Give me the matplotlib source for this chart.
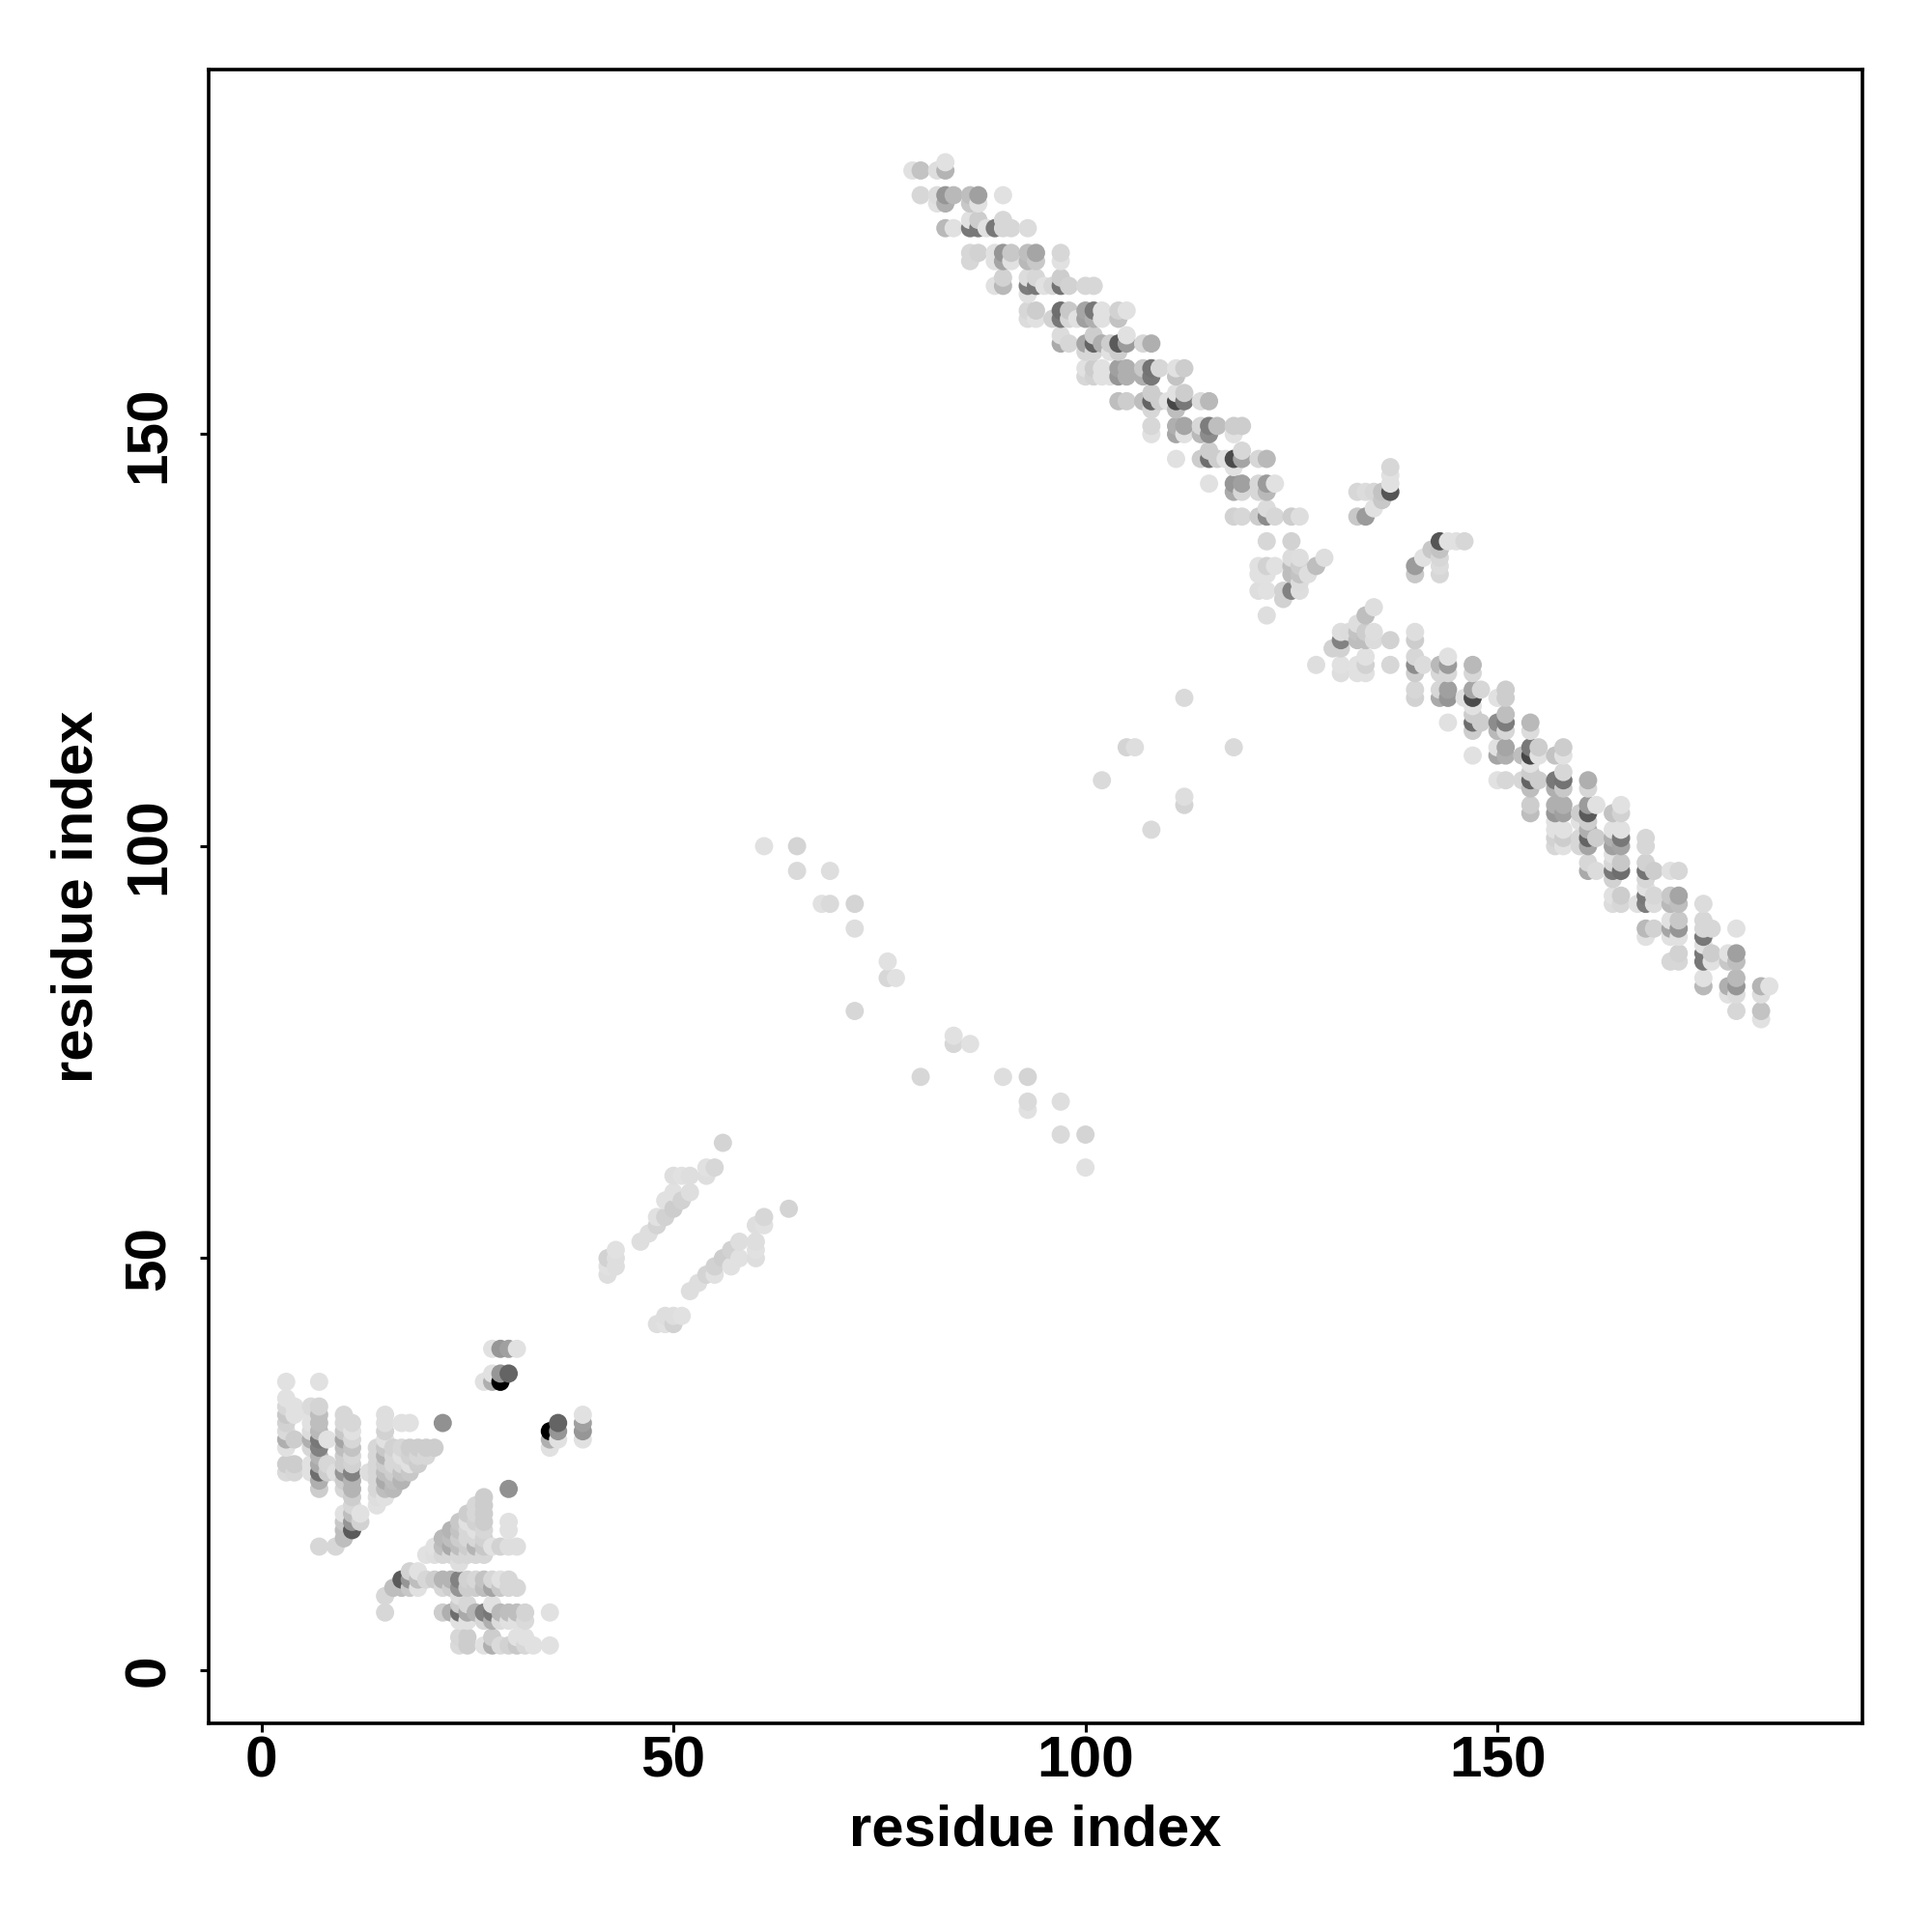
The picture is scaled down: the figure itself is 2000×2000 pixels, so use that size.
import numpy as np
import matplotlib
matplotlib.use("Agg")
import matplotlib.pyplot as plt

plt.rcParams["font.family"] = ["Liberation Sans", "DejaVu Sans"]

# contact map is symmetric, so only the x < y half is listed and mirrored below
# grey levels are 0-255

# first domain, bottom left corner
low_x = [3, 3, 3, 3, 3, 3, 3, 3, 3, 3,
         4, 4, 4, 4, 4,
         6, 6, 6, 6, 6, 6, 6, 6,
         7, 7, 7, 7, 7, 7, 7, 7, 7, 7, 7, 7, 7,
         8, 8, 8,
         9, 9,
         10, 10, 10, 10, 10, 10, 10, 10, 10, 10, 10, 10, 10, 10,
         11, 11, 11, 11, 11, 11, 11, 11, 11, 11, 11, 11, 11, 11,
         12, 12,
         13,
         14, 14, 14, 14, 14, 14, 14, 14,
         15, 15, 15, 15, 15, 15, 15, 15, 15, 15, 15,
         16, 16, 16, 16, 16, 16,
         17, 17, 17, 17, 17, 17,
         18, 18, 18, 18, 18,
         19, 19, 19,
         20, 20,
         21, 22, 27,
         28, 28, 28,
         29, 29, 29,
         30, 30,
         31]
low_y = [24, 25, 27, 28, 29, 30, 31, 32, 33, 35,
         24, 25, 28, 31, 32,
         24, 25, 27, 28, 29, 30, 31, 32,
         15, 22, 23, 24, 25, 26, 27, 28, 29, 30, 31, 32, 35,
         24, 25, 28,
         15, 24,
         16, 17, 18, 19, 22, 23, 24, 25, 26, 27, 28, 29, 30, 31,
         17, 18, 19, 20, 21, 22, 23, 24, 25, 26, 27, 28, 29, 30,
         18, 19,
         24,
         20, 21, 22, 23, 24, 25, 26, 27,
         21, 22, 23, 24, 25, 26, 27, 28, 29, 30, 31,
         22, 23, 24, 25, 26, 27,
         23, 24, 25, 26, 27, 30,
         24, 25, 26, 27, 30,
         25, 26, 27,
         26, 27,
         27, 30, 35,
         35, 36, 39,
         35, 36, 39,
         36, 39,
         39]
low_g = [218, 205, 225, 175, 218, 210, 200, 215, 225, 225,
         215, 205, 205, 225, 225,
         225, 225, 215, 175, 220, 225, 225, 218,
         215, 205, 175, 110, 170, 180, 130, 120, 185, 190, 190, 212, 225,
         205, 215, 225,
         215, 222,
         190, 190, 200, 225, 215, 205, 150, 205, 205, 190, 165, 200, 215, 215,
         90, 150, 190, 215, 205, 180, 180, 130, 210, 215, 195, 215, 225, 215,
         210, 225,
         222,
         225, 222, 215, 215, 215, 215, 215, 215,
         225, 190, 170, 190, 205, 180, 200, 225, 210, 222, 222,
         185, 190, 205, 215, 215, 210,
         180, 195, 215, 225, 215, 225,
         200, 225, 210, 205, 225,
         205, 215, 205,
         215, 205,
         205, 145, 225,
         175, 225, 225,
         0, 150, 150,
         100, 160,
         225]

# the faint stripes in the middle
mid_x = [42, 42, 42, 43, 43, 43, 46, 47, 48, 48, 49, 49, 50, 50, 50,
         51, 51, 52, 52, 54, 54, 55, 56]
mid_y = [48, 49, 50, 49, 50, 51, 52, 53, 54, 55, 55, 57, 56, 58, 60,
         57, 60, 58, 60, 60, 61, 61, 64]
mid_g = [222, 225, 210, 222, 222, 225, 222, 222, 212, 225, 210, 225, 205, 225, 222,
         210, 225, 222, 222, 222, 225, 215, 212]

# isolated points
far_x = [61, 65, 65, 69, 68, 69, 72, 72, 76, 76, 77, 72, 102, 105, 106, 112]
far_y = [100, 100, 97, 97, 93, 93, 93, 90, 86, 84, 84, 80, 108, 112, 112, 118]
far_g = [225, 212, 218, 222, 225, 218, 212, 222, 225, 215, 225, 215, 218, 212, 222, 218]

# long antiparallel band, one line per row of the map
band_x = [83,
          79, 80, 82, 83,
          80, 82, 83, 84, 86, 87, 90,
          82, 83, 86, 87,
          86, 87, 90,
          83, 84, 86, 87, 88, 89, 90, 91, 93,
          86, 87, 89, 90, 91, 93, 94, 97,
          86, 89, 90, 91, 93, 94, 97,
          90, 93, 94, 97,
          89, 90, 93, 94, 95, 96, 97, 98, 100, 101,
          93,
          93, 94, 97, 98, 100, 101, 102, 104, 105,
          93, 94, 96, 97, 98, 99, 100, 101, 102, 104,
          97, 101, 105,
          97, 98, 100, 101, 102, 103, 104, 105, 107, 108,
          100, 101, 103, 104,
          100, 101, 102, 104, 105, 107, 108, 109, 111, 112,
          100, 101, 102, 103, 104, 105, 107, 108, 111,
          108, 111, 112,
          104, 105, 107, 108, 109, 110, 111, 112, 114, 115,
          108, 111,
          108, 111, 112, 114, 115, 116, 118, 119,
          108, 111, 112, 114, 115, 118,
          115, 119,
          111, 114, 115, 116, 117, 118, 119, 121, 122,
          118, 137,
          137,
          115, 118, 119, 121, 122, 123, 137,
          118, 119, 121, 122, 133, 134, 135, 136, 137,
          136,
          122, 135,
          118, 119, 121, 122, 123, 125, 126, 133, 134,
          122, 125,
          125, 126, 129,
          121, 122, 123, 125, 126, 128,
          121, 122, 125, 126, 127,
          126,
          121, 122, 124, 125, 126,
          124,
          122]
band_y = [183,
          182, 182, 182, 182,
          179, 179, 179, 179, 179, 179, 179,
          178, 178, 178, 178,
          176, 176, 176,
          175, 175, 175, 175, 175, 175, 175, 175, 175,
          172, 172, 172, 172, 172, 172, 172, 172,
          171, 171, 171, 171, 171, 171, 171,
          169, 169, 169, 169,
          168, 168, 168, 168, 168, 168, 168, 168, 168, 168,
          167,
          165, 165, 165, 165, 165, 165, 165, 165, 165,
          164, 164, 164, 164, 164, 164, 164, 164, 164, 164,
          162, 162, 162,
          161, 161, 161, 161, 161, 161, 161, 161, 161, 161,
          160, 160, 160, 160,
          158, 158, 158, 158, 158, 158, 158, 158, 158, 158,
          157, 157, 157, 157, 157, 157, 157, 157, 157,
          155, 155, 155,
          154, 154, 154, 154, 154, 154, 154, 154, 154, 154,
          153, 153,
          151, 151, 151, 151, 151, 151, 151, 151,
          150, 150, 150, 150, 150, 150,
          148, 148,
          147, 147, 147, 147, 147, 147, 147, 147, 147,
          146, 146,
          145,
          144, 144, 144, 144, 144, 144, 144,
          143, 143, 143, 143, 143, 143, 143, 143, 143,
          142,
          141, 141,
          140, 140, 140, 140, 140, 140, 140, 140, 140,
          137, 137,
          135, 135, 135,
          134, 134, 134, 134, 134, 134,
          133, 133, 133, 133, 133,
          132,
          131, 131, 131, 131, 131,
          130,
          128]
band_g = [225,
          225, 195, 222, 180,
          215, 220, 150, 185, 190, 160, 225,
          225, 175, 200, 225,
          225, 205, 215,
          185, 225, 120, 120, 225, 120, 215, 215, 220,
          215, 210, 225, 150, 200, 190, 165, 215,
          215, 225, 165, 225, 185, 200, 225,
          210, 220, 215, 205,
          225, 185, 125, 120, 225, 215, 115, 210, 215, 215,
          225,
          215, 205, 110, 200, 165, 120, 225, 210, 225,
          220, 225, 210, 120, 215, 225, 160, 175, 225, 195,
          220, 205, 225,
          170, 215, 165, 100, 175, 205, 90, 155, 215, 175,
          215, 215, 225, 205,
          225, 205, 225, 160, 175, 200, 115, 215, 225, 205,
          215, 210, 225, 225, 150, 175, 175, 120, 195,
          205, 225, 205,
          190, 205, 190, 100, 205, 225, 70, 120, 220, 185,
          215, 190,
          215, 175, 165, 215, 125, 190, 205, 205,
          225, 165, 225, 185, 140, 225,
          205, 215,
          225, 205, 110, 205, 225, 75, 165, 215, 185,
          225, 215,
          225,
          225, 150, 160, 215, 155, 225, 225,
          170, 215, 215, 185, 215, 220, 215, 195, 85,
          200,
          220, 225,
          210, 215, 205, 140, 215, 205, 222, 200, 155,
          215, 210,
          220, 222, 222,
          225, 210, 225, 190, 205, 190,
          225, 225, 190, 195, 222,
          220,
          222, 225, 210, 130, 222,
          210,
          222]

tick_vals = [0, 50, 100, 150]

half_x = np.array(low_x + mid_x + far_x + band_x)
half_y = np.array(low_y + mid_y + far_y + band_y)
half_g = np.array(low_g + mid_g + far_g + band_g)

# both halves of the matrix, points drawn in x then y order like the original loop
xs = np.concatenate([half_x, half_y])
ys = np.concatenate([half_y, half_x])
gs = np.concatenate([half_g, half_g])
order = np.lexsort((ys, xs))

fig = plt.figure(figsize=(20, 20), dpi=100)
ax = fig.add_axes([0.108, 0.108, 0.856, 0.856])

ax.scatter(xs[order], ys[order], c=gs[order], cmap="gray", vmin=0, vmax=255, s=185, linewidths=0)

ax.set_xlim(-6.41, 194.3)
ax.set_ylim(-6.45, 194.25)
ax.set_xticks(tick_vals)
ax.set_yticks(tick_vals)
ax.tick_params(length=6.2, width=2.2, labelsize=43.5)
ax.tick_params(axis="x", pad=3)
ax.tick_params(axis="y", pad=18)
for lab in ax.get_xticklabels() + ax.get_yticklabels():
    lab.set_fontweight("bold")
for lab in ax.get_yticklabels():
    lab.set_rotation(90)
    lab.set_verticalalignment("center")
for spine in ax.spines.values():
    spine.set_linewidth(2.6)

ax.set_xlabel("residue index", fontsize=43, fontweight="bold")
ax.set_ylabel("residue index", fontsize=43, fontweight="bold")
ax.xaxis.set_label_coords(0.5, -0.0486)
ax.yaxis.set_label_coords(-0.0636, 0.5)

fig.savefig("out.png", dpi=100)
